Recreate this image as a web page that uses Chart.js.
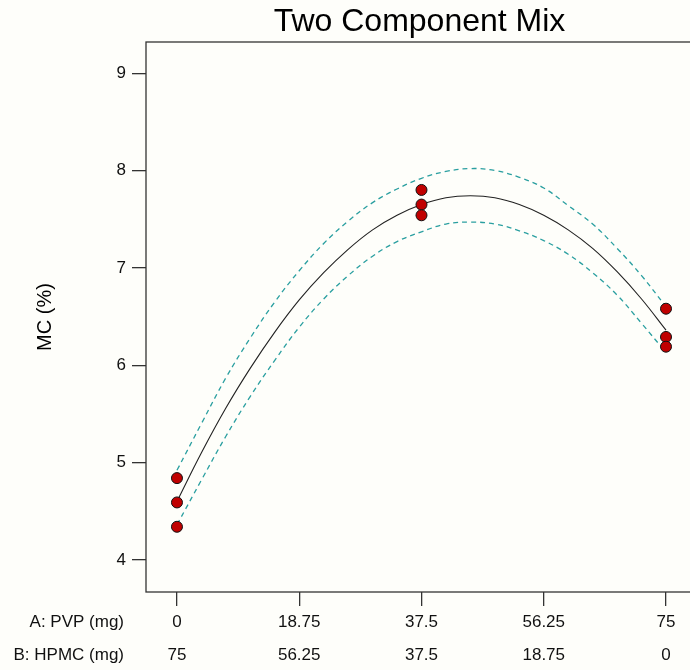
<!DOCTYPE html>
<html lang="en">
<head>
  <meta charset="UTF-8" />
  <title>Two Component Mix</title>
  <script src="https://cdn.jsdelivr.net/npm/chart.js"></script>
  <style>
    html, body { margin: 0; padding: 0; overflow: hidden; background: #fefefa; }
    #wrap { width: 700px; height: 670px; }
  </style>
</head>
<body>
<div id="wrap"><canvas id="mixChart" width="700" height="670"></canvas></div>
<script>
  // measured runs
  const runX = [0, 0, 0, 37.5, 37.5, 37.5, 75, 75, 75];
  const runMC = [4.84, 4.59, 4.34, 7.8, 7.65, 7.54, 6.58, 6.29, 6.19];

  // fitted curve and 95% band
  const curveX = [0, 3.75, 7.5, 11.25, 15, 18.75, 22.5, 26.25, 30, 33.75, 37.5,
                  41.25, 45, 48.75, 52.5, 56.25, 60, 63.75, 67.5, 71.25, 75];
  const fitMC = [4.6, 5.1, 5.56, 5.97, 6.34, 6.67, 6.95, 7.19, 7.39, 7.54, 7.65,
                 7.72, 7.74, 7.72, 7.65, 7.54, 7.39, 7.2, 6.96, 6.68, 6.36];
  const upperMC = [4.92, 5.4, 5.87, 6.28, 6.65, 6.97, 7.25, 7.48, 7.67, 7.81, 7.92,
                   7.99, 8.02, 8.0, 7.93, 7.82, 7.64, 7.45, 7.2, 6.92, 6.6];
  const lowerMC = [4.36, 4.82, 5.27, 5.68, 6.05, 6.39, 6.68, 6.92, 7.12, 7.27, 7.37,
                   7.45, 7.47, 7.45, 7.38, 7.28, 7.14, 6.95, 6.72, 6.43, 6.13];

  // axes
  const xTicks = [0, 18.75, 37.5, 56.25, 75];
  const pvpLabels = ['0', '18.75', '37.5', '56.25', '75'];
  const hpmcLabels = ['75', '56.25', '37.5', '18.75', '0'];
  const yTicks = [4, 5, 6, 7, 8, 9];
  const rowNames = ['A: PVP (mg)', 'B: HPMC (mg)'];

  const pts = (xs, ys) => xs.map((x, i) => ({ x: x, y: ys[i] }));

  const frameAndText = {
    id: 'frameAndText',
    afterDraw(chart) {
      const { ctx, chartArea } = chart;
      ctx.save();
      ctx.strokeStyle = '#333';
      ctx.lineWidth = 1.3;
      ctx.strokeRect(chartArea.left, chartArea.top, chartArea.right - chartArea.left, chartArea.bottom - chartArea.top);

      ctx.fillStyle = '#000';
      ctx.font = '32px "Liberation Sans", Arial, sans-serif';
      ctx.textAlign = 'center';
      ctx.textBaseline = 'middle';
      ctx.fillText('Two Component Mix', (chartArea.left + chartArea.right) / 2, 22);

      ctx.fillStyle = '#111';
      ctx.font = '17px "Liberation Sans Narrow", "Liberation Sans", Arial, sans-serif';
      ctx.textAlign = 'right';
      rowNames.forEach((name, i) => {
        ctx.fillText(name, 124, chartArea.bottom + 14 + 16.5 + i * 33);
      });
      ctx.restore();
    }
  };

  Chart.defaults.font.family = '"Liberation Sans Narrow", "Liberation Sans", Arial, sans-serif';
  Chart.defaults.color = '#111';

  new Chart(document.getElementById('mixChart'), {
    type: 'scatter',
    data: {
      datasets: [
        {
          data: pts(runX, runMC),
          backgroundColor: '#c00000',
          borderColor: '#111',
          borderWidth: 1,
          pointRadius: 5.5,
          showLine: false
        },
        {
          data: pts(curveX, fitMC),
          showLine: true,
          borderColor: '#222',
          borderWidth: 1.1,
          pointRadius: 0,
          tension: 0.4
        },
        {
          data: pts(curveX, upperMC),
          showLine: true,
          borderColor: '#2a9fa0',
          borderWidth: 1.3,
          borderDash: [5, 4],
          pointRadius: 0,
          tension: 0.4
        },
        {
          data: pts(curveX, lowerMC),
          showLine: true,
          borderColor: '#2a9fa0',
          borderWidth: 1.3,
          borderDash: [5, 4],
          pointRadius: 0,
          tension: 0.4
        }
      ]
    },
    options: {
      responsive: false,
      animation: false,
      layout: { padding: { top: 42, right: 7, bottom: 0, left: 0 } },
      plugins: {
        legend: { display: false },
        tooltip: { enabled: false }
      },
      scales: {
        x: {
          type: 'linear',
          min: -4.75,
          max: 79.14,
          afterBuildTicks: (scale) => { scale.ticks = xTicks.map(v => ({ value: v })); },
          afterFit: (scale) => { scale.height = 78; },
          border: { display: false },
          grid: { drawOnChartArea: false, drawTicks: true, tickLength: 14, color: '#333', lineWidth: 1.3 },
          ticks: {
            padding: 0,
            maxRotation: 0,
            autoSkip: false,
            font: { size: 17, lineHeight: 1.94 },
            callback: (value, index) => [pvpLabels[index], hpmcLabels[index]]
          }
        },
        y: {
          min: 3.67,
          max: 9.32,
          afterBuildTicks: (scale) => { scale.ticks = yTicks.map(v => ({ value: v })); },
          afterFit: (scale) => { scale.width = 146; },
          border: { display: false },
          grid: { drawOnChartArea: false, drawTicks: true, tickLength: 14, color: '#333', lineWidth: 1.3 },
          ticks: { padding: 6, font: { size: 17 } },
          title: {
            display: true,
            text: 'MC (%)',
            color: '#000',
            font: { size: 20, family: '"Liberation Sans", Arial, sans-serif' },
            padding: { top: 33, bottom: 0 }
          }
        }
      }
    },
    plugins: [frameAndText]
  });
</script>
</body>
</html>
